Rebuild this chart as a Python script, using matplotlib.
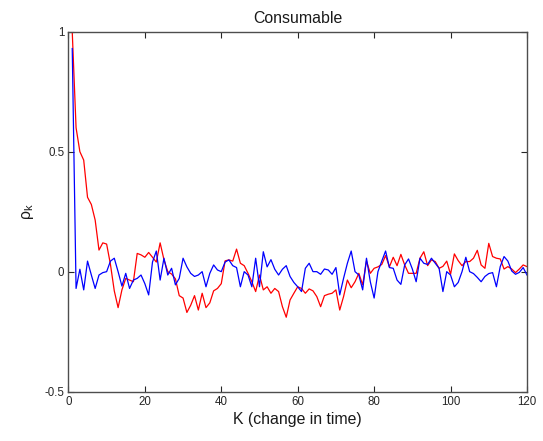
import numpy as np
import matplotlib
matplotlib.use("Agg")
import matplotlib.pyplot as plt

plt.rcParams['font.family'] = ['Liberation Sans', 'DejaVu Sans']
plt.rcParams['mathtext.fontset'] = 'custom'
plt.rcParams['mathtext.rm'] = 'Liberation Sans'
plt.rcParams['mathtext.it'] = 'Liberation Sans'

lags = np.arange(1, 121)

red_series = [
    1.0, 0.6, 0.5, 0.465, 0.31, 0.28, 0.215, 0.09, 0.12, 0.115,
    0.03, -0.08, -0.15, -0.076, -0.028, -0.035, -0.042, 0.076, 0.07, 0.06,
    0.08, 0.06, 0.04, 0.12, 0.05, 0.0, -0.01, -0.03, -0.1, -0.11,
    -0.17, -0.14, -0.1, -0.16, -0.09, -0.15, -0.13, -0.08, -0.07, -0.05,
    0.045, 0.049, 0.044, 0.094, 0.035, 0.025, -0.007, -0.042, -0.083, -0.014,
    -0.076, -0.063, -0.09, -0.07, -0.083, -0.146, -0.19, -0.118, -0.09, -0.063,
    -0.07, -0.09, -0.072, -0.08, -0.104, -0.146, -0.1, -0.094, -0.09, -0.076,
    -0.16, -0.104, -0.035, -0.067, -0.042, -0.007, -0.055, 0.044, -0.007, 0.014,
    0.02, 0.03, 0.067, 0.02, 0.06, 0.025, 0.072, 0.028, -0.007, -0.007,
    -0.007, 0.056, 0.083, 0.025, 0.049, 0.042, 0.014, 0.022, 0.044, -0.011,
    0.074, 0.046, 0.025, 0.042, 0.042, 0.056, 0.089, 0.028, 0.014, 0.118,
    0.063, 0.056, 0.053, 0.011, 0.021, 0.011, -0.004, 0.011, 0.028, 0.021,
]

blue_series = [
    0.93, -0.07, 0.01, -0.076, 0.044, -0.014, -0.07, -0.014, -0.004, 0.0,
    0.044, 0.056, 0.0, -0.06, -0.007, -0.07, -0.035, -0.028, -0.014, -0.05,
    -0.097, 0.04, 0.086, -0.035, 0.056, -0.014, 0.014, -0.055, -0.028, 0.056,
    0.02, -0.007, -0.02, -0.014, 0.0, -0.063, -0.007, 0.028, 0.007, 0.0,
    0.04, 0.049, 0.025, 0.017, -0.063, 0.0, -0.014, -0.063, 0.056, -0.063,
    0.083, 0.02, 0.05, 0.01, -0.014, 0.01, 0.025, -0.02, -0.045, -0.063,
    -0.083, 0.014, 0.035, 0.0, 0.0, -0.011, 0.011, 0.007, -0.011, 0.017,
    -0.097, -0.028, 0.035, 0.086, 0.0, -0.014, -0.076, 0.056, -0.042, -0.11,
    0.0, 0.044, 0.086, 0.017, 0.014, -0.035, -0.053, 0.028, 0.053, 0.011,
    -0.042, 0.056, 0.035, 0.03, 0.056, 0.035, 0.014, -0.083, 0.0, -0.014,
    -0.063, -0.045, 0.0, 0.06, 0.0, -0.008, -0.024, -0.042, -0.02, -0.008,
    -0.004, -0.063, 0.021, 0.063, 0.044, 0.003, -0.011, -0.003, 0.017, -0.014,
]

xticks = [0, 20, 40, 60, 80, 100, 120]
yticks = [-0.5, 0, 0.5, 1]
ytick_labels = ['-0.5', '0', '0.5', '1']

fig = plt.figure(figsize=(5.43, 4.41), dpi=100)
ax = fig.add_axes([0.126, 0.112, 0.8445, 0.816])

ax.plot(lags, red_series, color='#ff0000', lw=0.9)
ax.plot(lags, blue_series, color='#0000ff', lw=0.9)

ax.set_xlim(0, 120)
ax.set_ylim(-0.5, 1)
ax.set_xticks(xticks)
ax.set_xticklabels([str(t) for t in xticks])
ax.set_yticks(yticks)
ax.set_yticklabels(ytick_labels)

ax.tick_params(direction='in', length=4, width=0.8, top=True, right=True,
               labelsize=8.3, colors='#262626', pad=3)
for sp in ax.spines.values():
    sp.set_color('#4d4d4d')
    sp.set_linewidth(1.0)

ax.set_title('Consumable', fontsize=11.4, color='#1a1a1a', pad=6)
ax.set_xlabel('K (change in time)', fontsize=11.4, color='#1a1a1a', labelpad=3)
ax.set_ylabel(r'$\rho_k$', fontsize=11.4, color='#1a1a1a', labelpad=6)

fig.savefig('out.png', dpi=100)
